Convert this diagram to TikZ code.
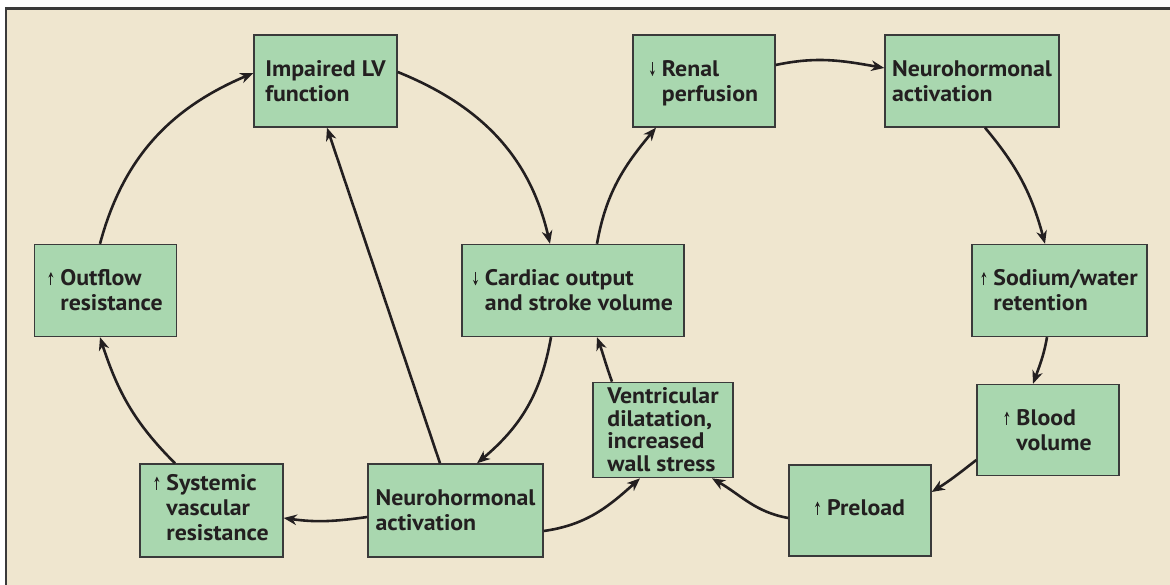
\documentclass[tikz,border=0pt]{standalone}
\usepackage{fontspec}
\setmainfont[FakeStretch=1.06]{PT Sans}
\usetikzlibrary{arrows.meta,calc}
\definecolor{bg}{HTML}{EFE6CF}
\definecolor{boxfill}{HTML}{A9D7AF}
\definecolor{ink}{HTML}{231F20}
\definecolor{edge}{HTML}{3A3A3A}
\newcommand\uar{\tikz[baseline=0pt]\draw[ink,line width=1.1pt,-{Stealth[length=5.5pt,width=5pt]}](0,0.5pt)--(0,14pt);}
\newcommand\dar{\tikz[baseline=0pt]\draw[ink,line width=1.1pt,-{Stealth[length=5.5pt,width=5pt]}](0,14pt)--(0,0.5pt);}
\newcommand\tstrut{\rule{0pt}{23.5pt}}
\newcommand\vstrut{\rule{0pt}{21.5pt}}
\tikzset{
  box/.style={draw=edge, fill=boxfill, line width=1.4pt, inner sep=0pt,
    minimum height=92pt, font=\fontsize{22.5}{25}\selectfont\bfseries, text=ink},
  conn/.style={draw=ink, line width=2.6pt, -{Stealth[length=13pt,width=10.5pt,inset=4pt]}}
}
\begin{document}
\begin{tikzpicture}[x=1pt,y=1pt]
\useasboundingbox (0,0) rectangle (1170,585);
\fill[white] (0,0) rectangle (1170,585);
\fill[bg] (6,0) rectangle (1170,576.5);
\draw[edge, line width=2.5pt] (6.2,0) -- (6.2,576.5) -- (1170,576.5);

\node[box, minimum width=143pt] (imp) at (325.5,504)
  {\begin{tabular}{@{}l@{}}\tstrut Impaired LV\\function\end{tabular}};
\node[box, minimum width=142pt] (renal) at (704,504)
  {\begin{tabular}{@{}c@{\hspace{7pt}}l@{}}\tstrut\dar&Renal\\&perfusion\end{tabular}};
\node[box, minimum width=174pt] (neuroT) at (972,504)
  {\begin{tabular}{@{}l@{}}\tstrut Neurohormonal\\activation\end{tabular}};
\node[box, minimum width=142pt] (outflow) at (105.5,294.5)
  {\begin{tabular}{@{}c@{\hspace{7pt}}l@{}}\tstrut\uar&Outflow\\&resistance\end{tabular}};
\node[box, minimum width=222pt] (cardiac) at (573,294.5)
  {\begin{tabular}{@{}c@{\hspace{7pt}}l@{}}\tstrut\dar&Cardiac output\\&and stroke volume\end{tabular}};
\node[box, minimum width=175pt] (sodium) at (1059.5,294.5)
  {\begin{tabular}{@{}c@{\hspace{7pt}}l@{}}\tstrut\uar&Sodium/water\\&retention\end{tabular}};
\node[box, minimum width=140pt, font=\fontsize{22.5}{21.7}\selectfont\bfseries] (vent) at (663,155)
  {\begin{tabular}{@{}l@{}}\vstrut Ventricular\\dilatation,\\increased\\wall stress\end{tabular}};
\node[box, minimum width=142pt, minimum height=91pt] (blood) at (1048,155)
  {\begin{tabular}{@{}c@{\hspace{7pt}}l@{}}\tstrut\uar&Blood\\&volume\end{tabular}};
\node[box, minimum width=143pt, minimum height=93pt] (systemic) at (211.5,74.5)
  {\begin{tabular}{@{}c@{\hspace{7pt}}l@{}}\uar&Systemic\\&vascular\\&resistance\end{tabular}};
\node[box, minimum width=175pt, minimum height=93pt] (neuroB) at (455.5,74.5)
  {\begin{tabular}{@{}l@{}}\tstrut Neurohormonal\\activation\end{tabular}};
\node[box, minimum width=142pt, minimum height=91pt] (preload) at (860,74.5)
  {\begin{tabular}{@{}c@{\hspace{7pt}}l@{}}\uar&Preload\end{tabular}};

\draw[conn] ([xshift=-5.5pt]outflow.north) to[out=75,in=203] ([yshift=8pt]imp.west);
\draw[conn] ([yshift=9pt]imp.east) to[out=-22,in=103] ([xshift=-23pt]cardiac.north);
\draw[conn] ([xshift=24pt]cardiac.north) to[out=80,in=230] ([xshift=-48pt]renal.south);
\draw[conn] ([yshift=16pt]renal.east) to[out=12,in=170] ([yshift=13pt]neuroT.west);
\draw[conn] ([xshift=13pt]neuroT.south) to[out=-50,in=105] ([xshift=-14.5pt]sodium.north);
\draw[conn] ([xshift=-12.5pt]sodium.south) to[out=-100,in=70] ([xshift=-15pt]blood.north);
\draw[conn] ([yshift=-30pt]blood.west) to[out=218,in=32] ([yshift=18.5pt]preload.east);
\draw[conn] ([yshift=-7.5pt]preload.west) to[out=170,in=-30] ([xshift=49pt]vent.south);
\draw[conn] ([xshift=-51pt]vent.north) to[out=110,in=-70] ([xshift=24pt]cardiac.south);
\draw[conn] ([xshift=-22pt]cardiac.south) to[out=-100,in=40] ([xshift=21.5pt]neuroB.north);
\draw[conn] ([xshift=-15.5pt]neuroB.north) -- ([xshift=1.5pt]imp.south);
\draw[conn] ([yshift=-20.5pt]neuroB.east) to[out=8,in=222] ([xshift=-23pt]vent.south);
\draw[conn] ([yshift=-6.5pt]neuroB.west) to[out=188,in=-8] ([yshift=-7.5pt]systemic.east);
\draw[conn] ([xshift=-36.5pt]systemic.north) to[out=135,in=-72] ([xshift=-5.5pt]outflow.south);
\end{tikzpicture}
\end{document}
